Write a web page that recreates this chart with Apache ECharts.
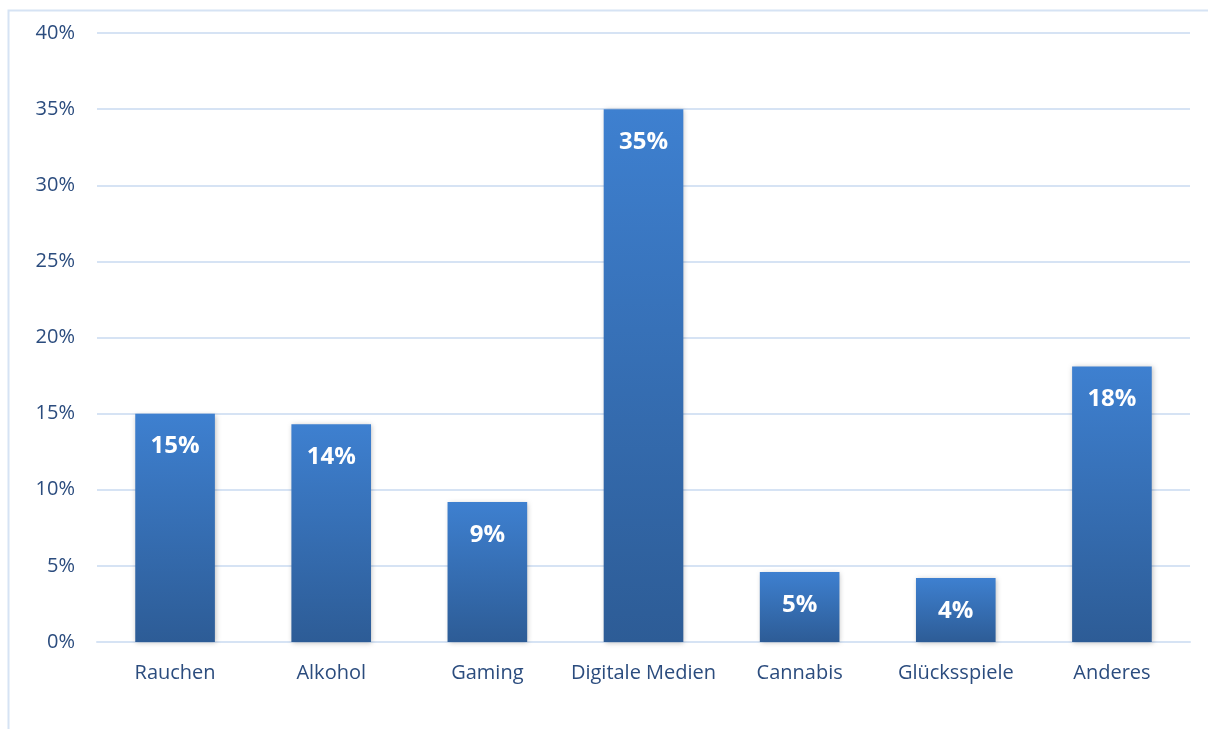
<!DOCTYPE html>
<html>
<head>
<meta charset="utf-8">
<script src="https://cdn.jsdelivr.net/npm/echarts@6/dist/echarts.min.js"></script>
<style>
  html, body { margin: 0; padding: 0; background: #fff; }
  #main { width: 1208px; height: 729px; }
</style>
</head>
<body>
<div id="main"></div>
<script>
const categories = ['Rauchen', 'Alkohol', 'Gaming', 'Digitale Medien', 'Cannabis', 'Glücksspiele', 'Anderes'];
const shares = [15.0, 14.3, 9.2, 35.0, 4.6, 4.2, 18.1];
const yTicks = [0, 5, 10, 15, 20, 25, 30, 35, 40];

const chart = echarts.init(document.getElementById('main'));
const textColor = '#2b4c7e';
const font = '"Open Sans", "Noto Sans", sans-serif';

const option = {
    animation: false,
    graphic: [{
        type: 'rect',
        left: 6, top: 8,
        shape: { width: 1400, height: 900 },
        style: { fill: 'none', stroke: '#d6e3f4', lineWidth: 2 },
        silent: true
    }],
    grid: { left: 97, right: 18, top: 33, bottom: 87 },
    xAxis: {
        type: 'category',
        data: categories,
        axisLine: { lineStyle: { color: '#d6e3f4', width: 2 } },
        axisTick: { show: false },
        axisLabel: { color: textColor, fontSize: 20, fontFamily: font, margin: 21, interval: 0 }
    },
    yAxis: {
        type: 'value',
        min: yTicks[0],
        max: yTicks[yTicks.length - 1],
        interval: 5,
        axisLine: { show: false },
        axisTick: { show: false },
        splitLine: { lineStyle: { color: '#d6e3f4', width: 2 } },
        axisLabel: {
            color: textColor, fontSize: 20, fontFamily: font, margin: 22,
            formatter: v => v + '%'
        }
    },
    series: [{
        type: 'bar',
        data: shares,
        barWidth: '51%',
        itemStyle: {
            color: new echarts.graphic.LinearGradient(0, 0, 0, 1, [
                { offset: 0, color: '#3e80d0' },
                { offset: 1, color: '#2d5c96' }
            ]),
            shadowColor: 'rgba(0,0,0,0.25)',
            shadowBlur: 5,
            shadowOffsetX: 1,
            shadowOffsetY: 1
        },
        label: {
            show: true,
            position: 'insideTop',
            distance: 21,
            color: '#ffffff',
            fontSize: 24,
            fontWeight: 'bold',
            fontFamily: font,
            formatter: p => Math.round(p.value) + '%'
        }
    }]
};
chart.setOption(option);
</script>
</body>
</html>
